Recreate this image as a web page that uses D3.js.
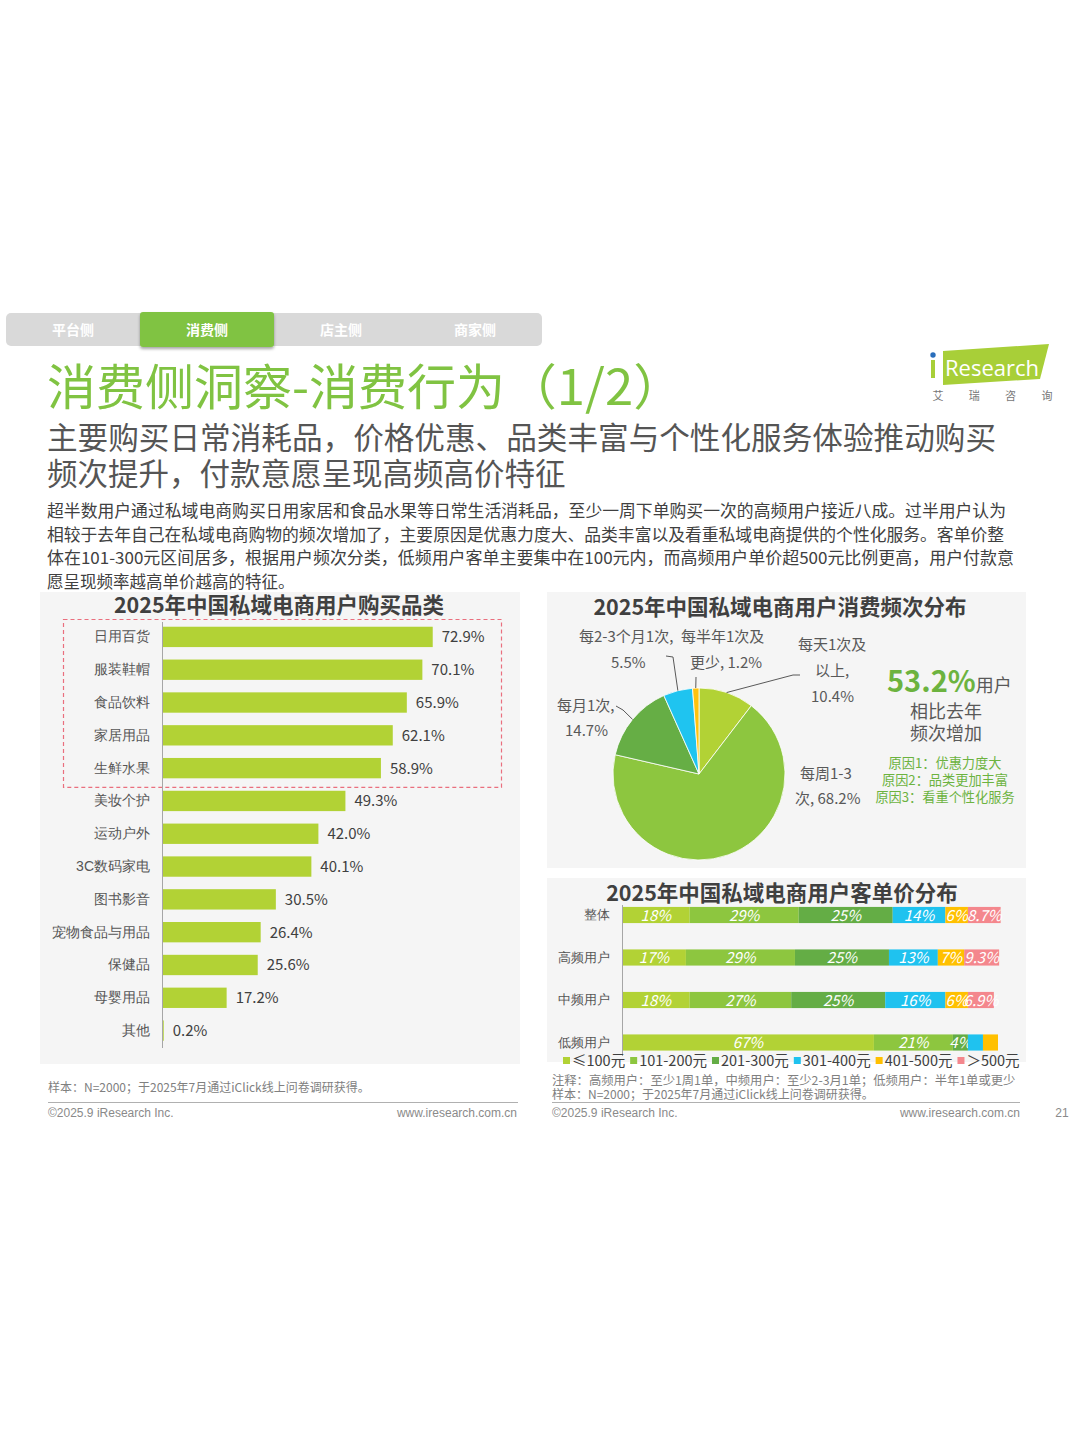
<!DOCTYPE html>
<html>
<head>
<meta charset="utf-8">
<script src="https://cdn.jsdelivr.net/npm/d3@7/dist/d3.min.js"></script>
<style>
body{margin:0;background:#fff;}
svg{display:block;font-family:"Noto Sans CJK SC","Noto Sans",sans-serif;}
</style>
</head>
<body>
<svg id="page" width="1080" height="1443"></svg>
<script>
// ---- data ----
var tabs = ["平台侧","消费侧","店主侧","商家侧"];
var activeTab = "消费侧";

var categories = ["日用百货","服装鞋帽","食品饮料","家居用品","生鲜水果","美妆个护","运动户外","3C数码家电","图书影音","宠物食品与用品","保健品","母婴用品","其他"];
var categoryValues = [72.9,70.1,65.9,62.1,58.9,49.3,42.0,40.1,30.5,26.4,25.6,17.2,0.2];
var highlighted = ["日用百货","服装鞋帽","食品饮料","家居用品","生鲜水果"];

var freqNames = ["每天1次及以上","每周1-3次","每月1次","每2-3个月1次","每半年1次及更少"];
var freqValues = [10.4,68.2,14.7,5.5,1.2];

var userGroups = ["整体","高频用户","中频用户","低频用户"];
var priceBands = ["≤100元","101-200元","201-300元","301-400元","401-500元","＞500元"];
var priceAll  = [18,29,25,14,6,8.7];
var priceHigh = [17,29,25,13,7,9.3];
var priceMid  = [18,27,25,16,6,6.9];
var priceLow  = [67,21,4,4,4,0];
var priceLowUnlabeled = ["301-400元","401-500元","＞500元"];

var bodyLines = [
  "超半数用户通过私域电商购买日用家居和食品水果等日常生活消耗品，至少一周下单购买一次的高频用户接近八成。过半用户认为",
  "相较于去年自己在私域电商购物的频次增加了，主要原因是优惠力度大、品类丰富以及看重私域电商提供的个性化服务。客单价整",
  "体在101-300元区间居多，根据用户频次分类，低频用户客单主要集中在100元内，而高频用户单价超500元比例更高，用户付款意",
  "愿呈现频率越高单价越高的特征。"
];

var svg = d3.select("#page");
var textGray = "#595959";

// ---- header ----
var drawHeader = function()
{
    svg.append("rect").attr("x",6).attr("y",313).attr("width",536).attr("height",33)
       .attr("rx",5).attr("fill","#d9d9d9");

    var tabX = d3.scaleBand().domain(tabs).range([6,542]);

    var defs = svg.append("defs");
    var f = defs.append("filter").attr("id","shadow").attr("x","-10%").attr("y","-20%").attr("width","120%").attr("height","160%");
    f.append("feDropShadow").attr("dx",0).attr("dy",2).attr("stdDeviation",1.5).attr("flood-color","#000").attr("flood-opacity",0.35);

    svg.append("rect").attr("x",tabX(activeTab)).attr("y",312)
       .attr("width",tabX.bandwidth()).attr("height",35).attr("rx",3)
       .attr("fill","#80c342").attr("filter","url(#shadow)");

    svg.selectAll(".tab").data(tabs).enter().append("text")
       .attr("x",function(d){return tabX(d)+tabX.bandwidth()/2;})
       .attr("y",335).attr("text-anchor","middle")
       .attr("font-size",14).attr("font-weight",700).attr("fill","#fff")
       .text(function(d){return d;});

    svg.append("text").attr("x",47).attr("y",405)
       .attr("font-size",49).attr("fill","#80c342")
       .text("消费侧洞察-消费行为");
    svg.append("text").attr("x",506).attr("y",405)
       .attr("font-size",49).attr("fill","#80c342")
       .attr("textLength",178).attr("lengthAdjust","spacingAndGlyphs")
       .text("（1/2）");

    // logo
    svg.append("polygon").attr("points","943,351 1049,344 1040,379 943,385").attr("fill","#a8cf38");
    svg.append("rect").attr("x",931).attr("y",360).attr("width",4).attr("height",18).attr("fill","#a8cf38");
    svg.append("circle").attr("cx",933).attr("cy",355).attr("r",2.7).attr("fill","#2a6ebb");
    svg.append("text").attr("x",945).attr("y",376).attr("font-size",22)
       .attr("font-family","'Open Sans',sans-serif").attr("fill","#fff").text("Research");
    svg.selectAll(".logo-cn").data(["艾","瑞","咨","询"]).enter().append("text")
       .attr("x",function(d,i){return 938+i*36.3;}).attr("y",400).attr("text-anchor","middle")
       .attr("font-size",11).attr("fill","#777").text(function(d){return d;});

    svg.append("text").attr("x",47).attr("y",449).attr("font-size",30.5).attr("fill","#555")
       .attr("textLength",949).attr("lengthAdjust","spacingAndGlyphs")
       .text("主要购买日常消耗品，价格优惠、品类丰富与个性化服务体验推动购买");
    svg.append("text").attr("x",47).attr("y",485).attr("font-size",30.5).attr("fill","#555")
       .text("频次提升，付款意愿呈现高频高价特征");

    var ends = [1006,1004,1014,null];
    bodyLines.forEach(function(line,i)
    {
        var t = svg.append("text").attr("x",47).attr("y",517+i*23.7)
           .attr("font-size",16.5).attr("fill","#404040").text(line);
        if(ends[i]) { t.attr("textLength",ends[i]-47).attr("lengthAdjust","spacingAndGlyphs"); }
    });
}

// ---- left: categories bar chart ----
var drawCategories = function()
{
    svg.append("rect").attr("x",40).attr("y",592).attr("width",480).attr("height",472).attr("fill","#f5f5f5");
    svg.append("text").attr("x",279).attr("y",613).attr("text-anchor","middle")
       .attr("font-size",21.5).attr("font-weight",700).attr("fill","#404040")
       .text("2025年中国私域电商用户购买品类");

    var y = d3.scaleBand().domain(categories).range([620.5,1047]).paddingInner(0.38).paddingOuter(0.19);
    var x = d3.scaleLinear().domain([0,100]).range([163,533]);

    // dashed highlight box
    var last = highlighted[highlighted.length-1];
    svg.append("rect").attr("x",63.5).attr("y",619.5).attr("width",438)
       .attr("height",y(last)+y.bandwidth()+9-619.5)
       .attr("fill","none").attr("stroke","#ea6f7e").attr("stroke-width",1.2).attr("stroke-dasharray","4,3");

    var g = svg.append("g");
    g.selectAll("rect.bar").data(categories).enter().append("rect")
       .attr("x",x(0)).attr("y",function(d){return y(d);})
       .attr("width",function(d,i){return x(categoryValues[i])-x(0);})
       .attr("height",y.bandwidth()).attr("fill","#b2d235");

    g.selectAll("text.val").data(categories).enter().append("text")
       .attr("x",function(d,i){return x(categoryValues[i])+9;})
       .attr("y",function(d){return y(d)+y.bandwidth()/2+5.5;})
       .attr("font-size",15).attr("fill","#404040")
       .text(function(d,i){return categoryValues[i].toFixed(1)+"%";});

    var axis = d3.axisLeft(y).tickSize(0).tickPadding(12);
    var ax = svg.append("g").attr("transform","translate(162,0)").call(axis);
    ax.select(".domain").attr("stroke","#a6a6a6").attr("d","M0.5,622V1048");
    ax.selectAll("text").attr("font-size",14).attr("fill","#555").attr("font-family",null);

    svg.append("text").attr("x",48).attr("y",1092).attr("font-size",12).attr("fill","#808080")
       .text("样本：N=2000；于2025年7月通过iClick线上问卷调研获得。");
    svg.append("line").attr("x1",48).attr("x2",518).attr("y1",1102.5).attr("y2",1102.5).attr("stroke","#b0b0b0");
    svg.append("text").attr("x",48).attr("y",1117).attr("font-size",12).attr("fill","#8a8a8a")
       .attr("font-family","'Liberation Sans',sans-serif").text("©2025.9 iResearch Inc.");
    svg.append("text").attr("x",517).attr("y",1117).attr("font-size",12).attr("fill","#8a8a8a")
       .attr("text-anchor","end").attr("font-family","'Liberation Sans',sans-serif").text("www.iresearch.com.cn");
}

// ---- right top: frequency pie ----
var drawPie = function()
{
    svg.append("rect").attr("x",547).attr("y",592).attr("width",479).attr("height",276).attr("fill","#f5f5f5");
    svg.append("text").attr("x",780).attr("y",615).attr("text-anchor","middle")
       .attr("font-size",21.5).attr("font-weight",700).attr("fill","#404040")
       .text("2025年中国私域电商用户消费频次分布");

    var cx = 699, cy = 774, r = 86;
    var colors = d3.scaleOrdinal().domain(freqNames).range(["#b2d235","#8dc63f","#66ae45","#1fc4f0","#ffc20e"]);
    var pie = d3.pie().sort(null).value(function(d,i){return freqValues[i];});
    var arc = d3.arc().innerRadius(0).outerRadius(r);
    var edge = d3.arc().innerRadius(r).outerRadius(r);
    var arcs = pie(freqNames);

    var g = svg.append("g").attr("transform","translate("+cx+","+cy+")");
    g.selectAll("path").data(arcs).enter().append("path")
       .attr("d",arc).attr("fill",function(d){return colors(d.data);})
       .attr("stroke","#fff").attr("stroke-width",0.8);

    // labels (annotation layout)
    var labels = [
        {lines:[["每天1次及",798,650],["以上,",815,676],["10.4%",811,702]], lead:[[800,675],[793,675]]},
        {lines:[["每周1-3",800,779],["次, 68.2%",795,804]], lead:null},
        {lines:[["每月1次,",557,711],["14.7%",565,736]], lead:[[616,706],[623,710]]},
        {lines:[["每2-3个月1次,",579,642],["5.5%",611,668]], lead:[[666,656],[673,657]]},
        {lines:[["每半年1次及",681,642],["更少, 1.2%",690,668]], lead:[[696,677]]}
    ];
    labels.forEach(function(lb,i)
    {
        lb.lines.forEach(function(l)
        {
            svg.append("text").attr("x",l[1]).attr("y",l[2]).attr("font-size",15)
               .attr("fill",textGray).text(l[0]);
        });
        if(lb.lead)
        {
            var c = edge.centroid(arcs[i]);
            var pts = lb.lead.concat([[cx+c[0],cy+c[1]]]);
            svg.append("path").attr("d",d3.line()(pts)).attr("fill","none")
               .attr("stroke","#595959").attr("stroke-width",1);
        }
    });

    var big = svg.append("text").attr("x",887).attr("y",692);
    big.append("tspan").attr("font-size",29).attr("font-weight",700).attr("fill","#6cb33f").text("53.2%");
    big.append("tspan").attr("font-size",18).attr("fill",textGray).text("用户");
    svg.append("text").attr("x",946).attr("y",718).attr("text-anchor","middle").attr("font-size",18).attr("fill",textGray).text("相比去年");
    svg.append("text").attr("x",946).attr("y",740).attr("text-anchor","middle").attr("font-size",18).attr("fill",textGray).text("频次增加");
    ["原因1：优惠力度大","原因2：品类更加丰富","原因3：看重个性化服务"].forEach(function(t,i)
    {
        svg.append("text").attr("x",945).attr("y",768+i*17).attr("text-anchor","middle")
           .attr("font-size",13.2).attr("fill","#6cb33f").text(t);
    });
}

// ---- right bottom: price stacked bars ----
var drawPrice = function()
{
    svg.append("rect").attr("x",547).attr("y",878).attr("width",479).attr("height",184).attr("fill","#f5f5f5");

    var series = [priceAll,priceHigh,priceMid,priceLow];
    var rows = userGroups.map(function(gname,i)
    {
        var row = {group:gname};
        priceBands.forEach(function(b,j){ row[b] = series[i][j]; });
        return row;
    });
    var stacked = d3.stack().keys(priceBands)(rows);

    var y = d3.scaleBand().domain(userGroups).range([893.75,1063.75]).paddingInner(0.62).paddingOuter(0.31);
    var x = d3.scaleLinear().domain([0,100]).range([622,998]);
    var colors = d3.scaleOrdinal().domain(priceBands).range(["#b2d235","#8dc63f","#64ad45","#1fc2ef","#ffc000","#f4878d"]);

    var layers = svg.append("g").selectAll("g").data(stacked).enter().append("g")
       .attr("fill",function(d){return colors(d.key);});
    layers.selectAll("rect").data(function(d){return d;}).enter().append("rect")
       .attr("x",function(d){return x(d[0]);})
       .attr("y",function(d){return y(d.data.group);})
       .attr("width",function(d){return x(d[1])-x(d[0]);})
       .attr("height",y.bandwidth());

    layers.each(function(layer)
    {
        d3.select(this).selectAll("text").data(layer).enter().append("text")
           .filter(function(d){ return !(d.data.group=="低频用户" && priceLowUnlabeled.indexOf(layer.key)>=0); })
           .attr("x",function(d){return (x(d[0])+x(d[1]))/2;})
           .attr("y",function(d){return y(d.data.group)+y.bandwidth()/2+5.5;})
           .attr("text-anchor","middle").attr("font-size",15).attr("font-style","italic")
           .attr("fill","#fff")
           .text(function(d){return d.data[layer.key]+"%";});
    });

    svg.append("text").attr("x",782).attr("y",901).attr("text-anchor","middle")
       .attr("font-size",21.5).attr("font-weight",700).attr("fill","#404040")
       .text("2025年中国私域电商用户客单价分布");

    var ax = svg.append("g").attr("transform","translate(622,0)").call(d3.axisLeft(y).tickSize(0).tickPadding(12));
    ax.select(".domain").attr("stroke","#a6a6a6").attr("d","M0.5,905V1056");
    ax.selectAll("text").attr("font-size",13.3).attr("fill","#555").attr("font-family",null);

    // legend
    var lx = 563;
    priceBands.forEach(function(b)
    {
        svg.append("rect").attr("x",lx).attr("y",1057).attr("width",7).attr("height",7).attr("fill",colors(b));
        var t = svg.append("text").attr("x",lx+9).attr("y",1066).attr("font-size",14.5).attr("fill","#404040").text(b);
        lx = lx + 9 + t.node().getComputedTextLength() + 5;
    });

    svg.append("text").attr("x",552).attr("y",1085).attr("font-size",12.3).attr("fill","#808080")
       .text("注释：高频用户：至少1周1单，中频用户：至少2-3月1单；低频用户：半年1单或更少");
    svg.append("text").attr("x",552).attr("y",1099).attr("font-size",12).attr("fill","#808080")
       .text("样本：N=2000；于2025年7月通过iClick线上问卷调研获得。");
    svg.append("line").attr("x1",552).attr("x2",1020).attr("y1",1102.5).attr("y2",1102.5).attr("stroke","#b0b0b0");
    svg.append("text").attr("x",552).attr("y",1117).attr("font-size",12).attr("fill","#8a8a8a")
       .attr("font-family","'Liberation Sans',sans-serif").text("©2025.9 iResearch Inc.");
    svg.append("text").attr("x",1020).attr("y",1117).attr("font-size",12).attr("fill","#8a8a8a")
       .attr("text-anchor","end").attr("font-family","'Liberation Sans',sans-serif").text("www.iresearch.com.cn");
    svg.append("text").attr("x",1062).attr("y",1117).attr("font-size",12).attr("fill","#8a8a8a")
       .attr("text-anchor","middle").attr("font-family","'Liberation Sans',sans-serif").text("21");
}

drawHeader();
drawCategories();
drawPie();
drawPrice();
</script>
</body>
</html>
